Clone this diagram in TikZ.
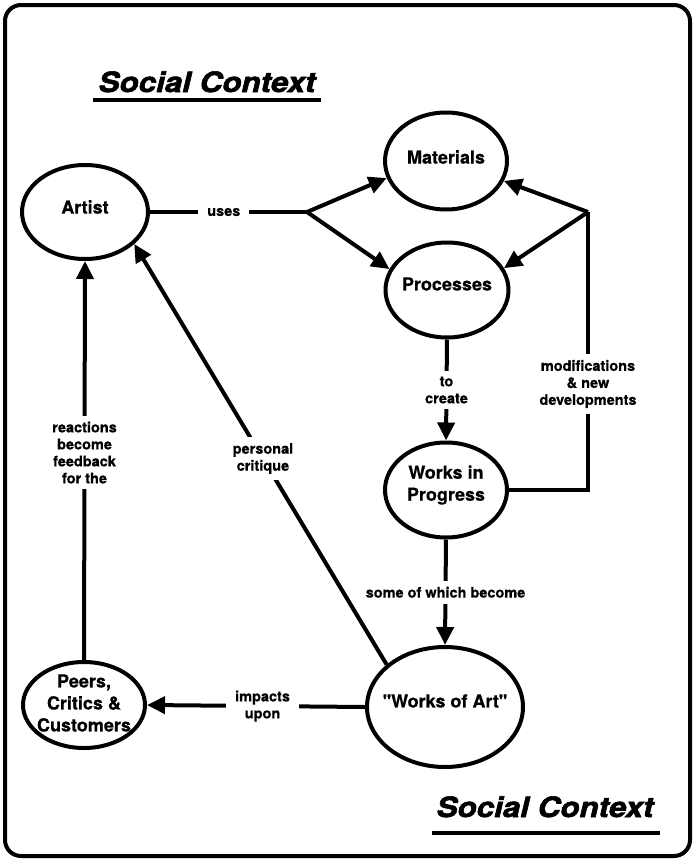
\documentclass[tikz,border=0pt]{standalone}
\usepackage{fontspec}
\setmainfont{TeX Gyre Heros}[Ligatures=TeXOff, BoldFeatures={FakeBold=0.6}]
\newfontfamily\headfont[FakeBold=2]{TeX Gyre Heros}
\usetikzlibrary{shapes.geometric,arrows.meta}

\tikzset{
  concept/.style={ellipse, draw, line width=4pt, inner sep=0pt},
  ctext/.style={inner sep=0pt, align=center,
    font=\fontsize{18}{22}\selectfont\bfseries},
  lbl/.style={fill=white, align=center, inner xsep=9pt, inner ysep=6pt,
    font=\fontsize{14.5}{17}\selectfont\bfseries},
  link/.style={line width=4pt},
  arr/.style={line width=4pt, -{Triangle[length=18pt,width=17pt]}},
  heading/.style={inner sep=0pt, anchor=base,
    font=\fontsize{28}{30}\headfont\bfseries\itshape},
  rule/.style={line width=4pt}
}

\begin{document}
\begin{tikzpicture}[x=1pt,y=-1pt]
\useasboundingbox (0,0) rectangle (694,862);

% outer frame
\draw[line width=4pt, rounded corners=16pt] (5,5) rectangle (690,856);

% headings
\node[heading] (headtop) at (207,92) {\scalebox{1.12}[1]{Social Context}};
\draw[rule] (93,100) -- (321,100);
\node[heading] (headbot) at (545,817) {\scalebox{1.12}[1]{Social Context}};
\draw[rule] (432,833) -- (660,833);

% concepts (outline, then its text set a little above the centre)
\node[concept, minimum width=126pt, minimum height=94pt] (artist) at (85,212) {};
\node[ctext] (tartist) at ([yshift=5pt]artist.center) {Artist};
\node[concept, minimum width=122pt, minimum height=97pt] (materials) at (446,161) {};
\node[ctext] (tmaterials) at ([yshift=4pt]materials.center) {Materials};
\node[concept, minimum width=123pt, minimum height=95pt] (processes) at (447,290) {};
\node[ctext] (tprocesses) at ([yshift=6pt]processes.center) {Processes};
\node[concept, minimum width=122pt, minimum height=95pt] (wip) at (446,490) {};
\node[ctext] (twip) at ([yshift=5pt]wip.center) {Works in\\Progress};
\node[concept, minimum width=156pt, minimum height=120pt] (woa) at (445,707) {};
\node[ctext] (twoa) at ([yshift=6pt]woa.center) {"Works of Art"};
\node[concept, minimum width=122pt, minimum height=86pt] (peers) at (84,705) {};
\node[ctext] (tpeers) at ([yshift=2pt]peers.center) {Peers,\\Critics \&\\Customers};

% junctions
\coordinate (juses) at (307,212);
\coordinate (jmod) at (588,212);

% artist uses materials and processes
\draw[link] (artist.east) -- node[lbl, pos=0.47] (luses) {uses} (juses);
\draw[arr] (juses) -- (materials.196);
\draw[arr] (juses) -- (processes.160);

% processes create works in progress
\draw[arr] (processes.south) -- node[lbl] (lcreate) {to\\create} (wip.north);

% modifications feed back to materials and processes
\draw[link] (wip.east) -| (jmod);
\node[lbl] (lmod) at (588,384) {modifications\\\& new\\developments};
\draw[arr] (jmod) -- (materials.341);
\draw[arr] (jmod) -- (processes.21);

% some works in progress become works of art
\draw[arr] (wip.south) -- node[lbl] (lbecome) {some of which become} (woa.north);

% personal critique back to the artist
\draw[arr] (woa.144) -- node[lbl, pos=0.49] (lcrit) {personal\\critique} (artist.-33);

% impact on peers, critics and customers
\draw[arr] (woa.west) -- node[lbl, pos=0.47] (limpact) {impacts\\upon} (peers.east);

% reactions become feedback
\draw[arr] (peers.north) -- node[lbl, pos=0.52] (lfeed) {reactions\\become\\feedback\\for the} (artist.south);
\end{tikzpicture}
\end{document}
